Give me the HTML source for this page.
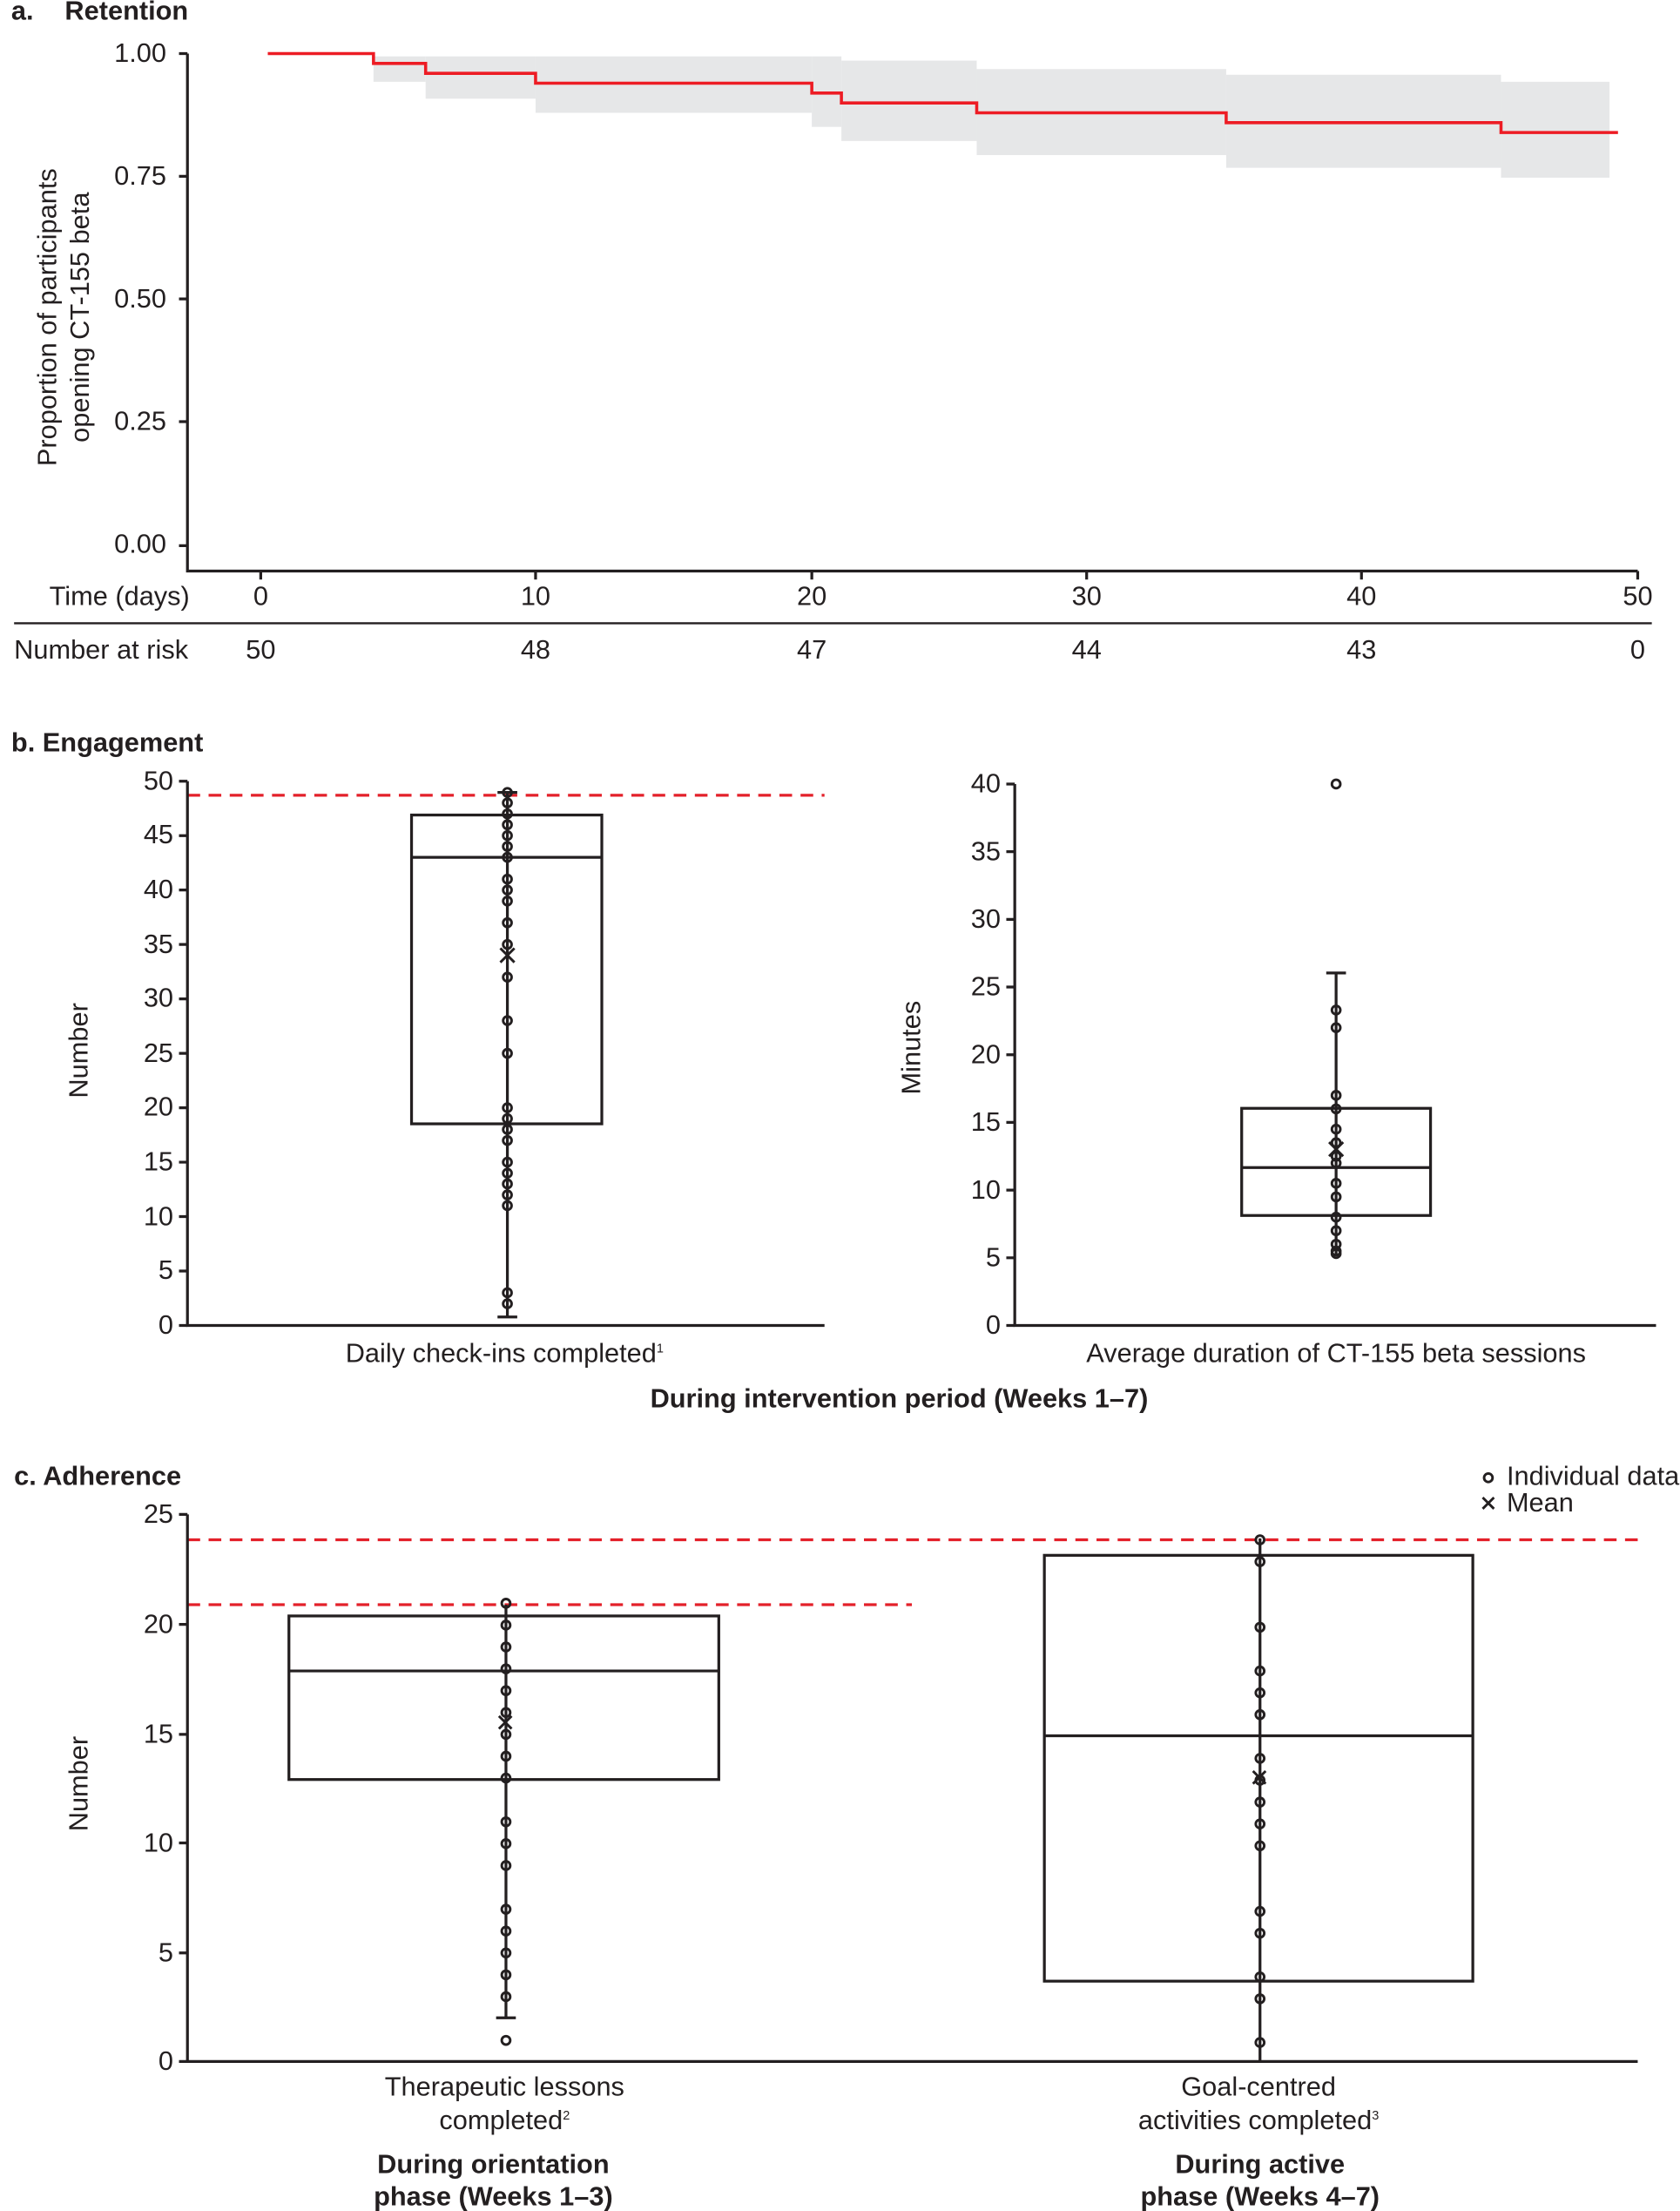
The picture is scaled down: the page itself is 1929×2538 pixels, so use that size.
<!DOCTYPE html>
<html><head><meta charset="utf-8"><style>
html,body{margin:0;padding:0;background:#fff;}
svg{display:block;}
text{font-family:"Liberation Sans",sans-serif;fill:#231f20;}
.t{font-size:19px;}
.b{font-size:19px;font-weight:bold;}
.ax{stroke:#231f20;stroke-width:2;fill:none;}
.red{stroke:#e3202a;stroke-width:2;stroke-dasharray:9,6;fill:none;}
.d{fill:none;stroke:#231f20;stroke-width:1.8;}
</style></head><body>
<svg width="1929" height="2538" viewBox="0 0 1192 1568" preserveAspectRatio="none" xmlns="http://www.w3.org/2000/svg">
<!-- Panel a -->
<text x="8" y="14" class="b">a.</text><text x="46" y="14" class="b">Retention</text>
<g fill="#e6e7e8">
<rect x="265" y="40" width="37" height="18"/>
<rect x="302" y="40" width="78" height="30"/>
<rect x="380" y="40" width="196" height="40"/>
<rect x="576" y="40" width="21" height="50"/>
<rect x="597" y="43" width="96" height="57"/>
<rect x="693" y="49" width="177" height="61"/>
<rect x="870" y="53" width="195" height="66"/>
<rect x="1065" y="58" width="77" height="68"/>
</g>
<polyline fill="none" stroke="#ed1c24" stroke-width="2.2" points="190,38 265,38 265,45 302,45 302,52 380,52 380,59 576,59 576,66 597,66 597,73 693,73 693,80 870,80 870,87 1065,87 1065,94 1148,94"/>
<path class="ax" d="M133,38 V405 H1162 M127,38 H133 M127,125 H133 M127,212 H133 M127,299 H133 M127,387 H133"/>
<g class="t" text-anchor="end"><text x="118" y="44">1.00</text><text x="118" y="131">0.75</text><text x="118" y="218">0.50</text><text x="118" y="305">0.25</text><text x="118" y="392">0.00</text></g>
<text class="t" transform="translate(40,225) rotate(-90)" text-anchor="middle">Proportion of participants</text>
<text class="t" transform="translate(63,225) rotate(-90)" text-anchor="middle">opening CT-155 beta</text>
<path class="ax" d="M185,405 v6 M380,405 v6 M576,405 v6 M771,405 v6 M966,405 v6 M1162,405 v6"/>
<g class="t" text-anchor="middle"><text x="185" y="429">0</text><text x="380" y="429">10</text><text x="576" y="429">20</text><text x="771" y="429">30</text><text x="966" y="429">40</text><text x="1162" y="429">50</text>
<text x="185" y="467">50</text><text x="380" y="467">48</text><text x="576" y="467">47</text><text x="771" y="467">44</text><text x="966" y="467">43</text><text x="1162" y="467">0</text></g>
<text class="t" x="35" y="429">Time (days)</text>
<text class="t" x="10" y="467">Number at risk</text>
<path d="M10,442 H1172" stroke="#231f20" stroke-width="1.5"/>

<!-- Panel b -->
<text x="8" y="533" class="b">b. Engagement</text>
<path class="red" d="M133,564 H585"/>
<path class="ax" d="M133,554 V940 H585"/>
<g class="ax"><path d="M127,554h6M127,592.6h6M127,631.2h6M127,669.8h6M127,708.4h6M127,747h6M127,785.6h6M127,824.2h6M127,862.8h6M127,901.4h6M127,940h6"/></g>
<g class="t" text-anchor="end"><text x="123" y="560">50</text><text x="123" y="598">45</text><text x="123" y="637">40</text><text x="123" y="676">35</text><text x="123" y="714">30</text><text x="123" y="753">25</text><text x="123" y="791">20</text><text x="123" y="830">15</text><text x="123" y="869">10</text><text x="123" y="907">5</text><text x="123" y="946">0</text></g>
<text class="t" transform="translate(62,745) rotate(-90)" text-anchor="middle">Number</text>
<path class="ax" d="M360,562 V934 M353,934 h14 M353,562 h14"/>
<rect x="292" y="578" width="135" height="219" class="ax"/>
<path class="ax" d="M292,608 H427"/>
<g class="d">
<circle cx="360" cy="562" r="3"/><circle cx="360" cy="569.4" r="3"/><circle cx="360" cy="577.2" r="3"/><circle cx="360" cy="584.9" r="3"/><circle cx="360" cy="592.6" r="3"/><circle cx="360" cy="600.3" r="3"/><circle cx="360" cy="608" r="3"/><circle cx="360" cy="623.5" r="3"/><circle cx="360" cy="631.2" r="3"/><circle cx="360" cy="639" r="3"/><circle cx="360" cy="654.4" r="3"/><circle cx="360" cy="669.8" r="3"/><circle cx="360" cy="693" r="3"/><circle cx="360" cy="723.8" r="3"/><circle cx="360" cy="747" r="3"/><circle cx="360" cy="785.6" r="3"/><circle cx="360" cy="793.3" r="3"/><circle cx="360" cy="801" r="3"/><circle cx="360" cy="808.8" r="3"/><circle cx="360" cy="824.2" r="3"/><circle cx="360" cy="832" r="3"/><circle cx="360" cy="839.6" r="3"/><circle cx="360" cy="847.4" r="3"/><circle cx="360" cy="855" r="3"/><circle cx="360" cy="916.8" r="3"/><circle cx="360" cy="924.6" r="3"/>
<path d="M355,672.5l10,10M365,672.5l-10,10"/>
</g>
<text class="t" x="358" y="966" text-anchor="middle">Daily check-ins completed<tspan font-size="9" dy="-7">1</tspan></text>

<path class="ax" d="M720,556 V940 H1175"/>
<g class="ax"><path d="M714,556h6M714,604h6M714,652h6M714,700h6M714,748h6M714,796h6M714,844h6M714,892h6M714,940h6"/></g>
<g class="t" text-anchor="end"><text x="710" y="562">40</text><text x="710" y="610">35</text><text x="710" y="658">30</text><text x="710" y="706">25</text><text x="710" y="754">20</text><text x="710" y="802">15</text><text x="710" y="850">10</text><text x="710" y="898">5</text><text x="710" y="946">0</text></g>
<text class="t" transform="translate(653,743) rotate(-90)" text-anchor="middle">Minutes</text>
<path class="ax" d="M948,690 V890 M941,690 h14"/>
<rect x="881" y="786" width="134" height="76" class="ax"/>
<path class="ax" d="M881,828 H1015"/>
<g class="d">
<circle cx="948" cy="556" r="3"/><circle cx="948" cy="716.3" r="3"/><circle cx="948" cy="728.8" r="3"/><circle cx="948" cy="776.8" r="3"/><circle cx="948" cy="786.4" r="3"/><circle cx="948" cy="800.8" r="3"/><circle cx="948" cy="810.4" r="3"/><circle cx="948" cy="820" r="3"/><circle cx="948" cy="824.8" r="3"/><circle cx="948" cy="839.2" r="3"/><circle cx="948" cy="848.8" r="3"/><circle cx="948" cy="863.2" r="3"/><circle cx="948" cy="872.8" r="3"/><circle cx="948" cy="882.4" r="3"/><circle cx="948" cy="887.2" r="3"/><circle cx="948" cy="889" r="3"/>
<path d="M943,810l10,10M953,810l-10,10"/>
</g>
<text class="t" x="948" y="966" text-anchor="middle">Average duration of CT-155 beta sessions</text>
<text class="b" x="638" y="998" text-anchor="middle">During intervention period (Weeks 1–7)</text>

<!-- Panel c -->
<text x="10" y="1053" class="b">c. Adherence</text>
<circle cx="1056" cy="1048" r="3" class="d"/><text class="t" x="1069" y="1053">Individual data</text>
<path class="d" d="M1052,1062l8,8M1060,1062l-8,8"/><text class="t" x="1069" y="1072">Mean</text>
<path class="red" d="M133,1092 H1162 M133,1138 H647"/>
<path class="ax" d="M133,1074 V1462 H1162"/>
<g class="ax"><path d="M127,1074h6M127,1152h6M127,1230h6M127,1307h6M127,1385h6M127,1462h6"/></g>
<g class="t" text-anchor="end"><text x="123" y="1080">25</text><text x="123" y="1158">20</text><text x="123" y="1236">15</text><text x="123" y="1313">10</text><text x="123" y="1391">5</text><text x="123" y="1468">0</text></g>
<text class="t" transform="translate(62,1265) rotate(-90)" text-anchor="middle">Number</text>
<path class="ax" d="M359,1138 V1431 M352,1431 h14"/>
<rect x="205" y="1146" width="305" height="116" class="ax"/>
<path class="ax" d="M205,1185 H510"/>
<g class="d">
<circle cx="359" cy="1137" r="3"/><circle cx="359" cy="1152.5" r="3"/><circle cx="359" cy="1168" r="3"/><circle cx="359" cy="1183.5" r="3"/><circle cx="359" cy="1199" r="3"/><circle cx="359" cy="1214.5" r="3"/><circle cx="359" cy="1230" r="3"/><circle cx="359" cy="1245.5" r="3"/><circle cx="359" cy="1261" r="3"/><circle cx="359" cy="1292" r="3"/><circle cx="359" cy="1307.5" r="3"/><circle cx="359" cy="1323" r="3"/><circle cx="359" cy="1354" r="3"/><circle cx="359" cy="1369.5" r="3"/><circle cx="359" cy="1385" r="3"/><circle cx="359" cy="1400.5" r="3"/><circle cx="359" cy="1416" r="3"/><circle cx="359" cy="1447" r="3"/>
<path d="M354,1217l9,9M363,1217l-9,9"/>
</g>
<path class="ax" d="M894,1091 V1462"/>
<rect x="741" y="1103" width="304" height="302" class="ax"/>
<path class="ax" d="M741,1231 H1045"/>
<g class="d">
<circle cx="894" cy="1092" r="3"/><circle cx="894" cy="1107.5" r="3"/><circle cx="894" cy="1154" r="3"/><circle cx="894" cy="1185" r="3"/><circle cx="894" cy="1200.5" r="3"/><circle cx="894" cy="1216" r="3"/><circle cx="894" cy="1247" r="3"/><circle cx="894" cy="1262.5" r="3"/><circle cx="894" cy="1278" r="3"/><circle cx="894" cy="1293.5" r="3"/><circle cx="894" cy="1309" r="3"/><circle cx="894" cy="1355.5" r="3"/><circle cx="894" cy="1371" r="3"/><circle cx="894" cy="1402" r="3"/><circle cx="894" cy="1417.5" r="3"/><circle cx="894" cy="1448.5" r="3"/>
<path d="M889,1256l9,9M898,1256l-9,9"/>
</g>
<g class="t" text-anchor="middle">
<text x="358" y="1486">Therapeutic lessons</text>
<text x="358" y="1510">completed<tspan font-size="9" dy="-7">2</tspan></text>
<text x="893" y="1486">Goal-centred</text>
<text x="893" y="1510">activities completed<tspan font-size="9" dy="-7">3</tspan></text>
</g>
<g class="b" text-anchor="middle">
<text x="350" y="1541">During orientation</text>
<text x="350" y="1564">phase (Weeks 1–3)</text>
<text x="894" y="1541">During active</text>
<text x="894" y="1564">phase (Weeks 4–7)</text>
</g>
</svg>
</body></html>
